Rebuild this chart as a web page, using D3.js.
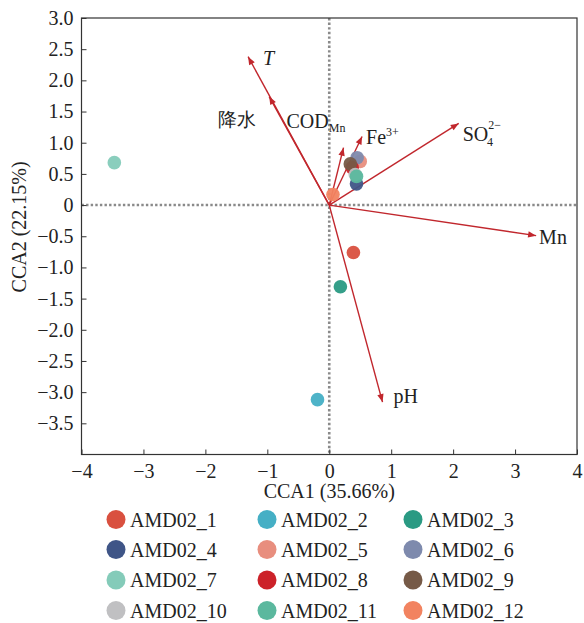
<!DOCTYPE html>
<html><head><meta charset="utf-8">
<script src="https://cdn.jsdelivr.net/npm/d3@7"></script>
<style>
html,body{margin:0;padding:0;background:#fff;}
svg{display:block;}
text{font-family:"Liberation Serif","Times New Roman",serif;fill:#222;}
</style></head>
<body><svg id="c" width="584" height="623"></svg>
<script>
// ---- data ----
const sampleNames = ["AMD02_1","AMD02_2","AMD02_3","AMD02_4","AMD02_5","AMD02_6","AMD02_7","AMD02_8","AMD02_9","AMD02_10","AMD02_11","AMD02_12"];
const sampleX = [0.39, -0.19, 0.18, 0.44, 0.50, 0.45, -3.47, 0.37, 0.34, 0.42, 0.44, 0.06];
const sampleY = [-0.76, -3.12, -1.31, 0.34, 0.70, 0.76, 0.68, 0.60, 0.66, 0.49, 0.46, 0.17];
const sampleColors = ["#d9503f","#45afc5","#2a9a83","#3f5587","#e88e7e","#7e8aad","#84cbb9","#cc2229","#765a47","#c0c0c2","#5bb89e","#f28360"];
const envNames = ["T","降水","COD","Fe","SO","Mn","pH"];
const envX = [-1.31, -0.97, 0.23, 0.53, 2.09, 3.34, 0.86];
const envY = [2.38, 1.74, 0.92, 1.10, 1.31, -0.49, -3.16];
const xTicks = [-4,-3,-2,-1,0,1,2,3,4];
const yTicks = [3.0,2.5,2.0,1.5,1.0,0.5,0,-0.5,-1.0,-1.5,-2.0,-2.5,-3.0,-3.5];
const xTitle = "CCA1 (35.66%)";
const yTitle = "CCA2 (22.15%)";

// ---- layout ----
const L = 81.5, R = 577, T = 18, B = 454.5;
const svg = d3.select("#c");
const x = d3.scaleLinear().domain([-4,4]).range([L,R]);
const y = d3.scaleLinear().domain([-4,3]).range([B,T]);
const minus = s => String(s).replace("-","\u2212");

// zero lines
svg.append("line").attr("x1",x(0)).attr("x2",x(0)).attr("y1",T).attr("y2",B)
  .attr("stroke","#8a8a8a").attr("stroke-width",2.6).attr("stroke-dasharray","2.4,2.2");
svg.append("line").attr("x1",L).attr("x2",R).attr("y1",y(0)).attr("y2",y(0))
  .attr("stroke","#8a8a8a").attr("stroke-width",2.6).attr("stroke-dasharray","2.4,2.2");

// axes
const xAxis = d3.axisBottom(x).tickValues(xTicks).tickSize(-5).tickPadding(9)
  .tickFormat(d => minus(d));
const gx = svg.append("g").attr("transform",`translate(0,${B})`).call(xAxis);
gx.select(".domain").remove();
gx.selectAll("text").attr("font-size",20).attr("font-family","Liberation Serif").attr("fill","#222");
gx.selectAll("line").attr("stroke","#333");

const yAxis = d3.axisLeft(y).tickValues(yTicks).tickSize(-5).tickPadding(8)
  .tickFormat(d => d === 0 ? "0" : minus(d.toFixed(1)));
const gy = svg.append("g").attr("transform",`translate(${L},0)`).call(yAxis);
gy.select(".domain").remove();
gy.selectAll("text").attr("font-size",20).attr("font-family","Liberation Serif").attr("fill","#222");
gy.selectAll("line").attr("stroke","#333");

svg.append("rect").attr("x",L).attr("y",T).attr("width",R-L).attr("height",B-T)
  .attr("fill","none").attr("stroke","#333").attr("stroke-width",1.2);

// titles
svg.append("text").attr("x",x(0)).attr("y",498).attr("text-anchor","middle")
  .attr("font-size",20).text(xTitle);
svg.append("text").attr("transform",`translate(26,${y(-0.35)}) rotate(-90)`)
  .attr("text-anchor","middle").attr("font-size",20).text(yTitle);

// arrows
const arrowColor = "#c1272d";
svg.append("defs").append("marker").attr("id","ah").attr("viewBox","0 -5 10 10")
  .attr("refX",10).attr("refY",0).attr("markerWidth",10).attr("markerHeight",8)
  .attr("markerUnits","userSpaceOnUse").attr("orient","auto")
  .append("path").attr("d","M0,-4L10,0L0,4Z").attr("fill",arrowColor);

const env = envNames.map((n,i)=>({n, x:envX[i], y:envY[i]}));
svg.append("g").selectAll("line").data(env).join("line")
  .attr("x1",x(0)).attr("y1",y(0)).attr("x2",d=>x(d.x)).attr("y2",d=>y(d.y))
  .attr("stroke",arrowColor).attr("stroke-width",1.4).attr("marker-end","url(#ah)");

// arrow labels (offsets are style)
const lab = svg.append("g").attr("font-size",20);
const tip = n => { const d = env.find(e=>e.n===n); return [x(d.x), y(d.y)]; };
let p;
p = tip("T");
lab.append("text").attr("x",p[0]+15).attr("y",p[1]+8).attr("font-style","italic").text("T");
p = tip("降水");
lab.append("text").attr("x",p[0]-51).attr("y",p[1]+29)
  .attr("font-family","Noto Sans CJK SC").attr("font-weight",300).attr("font-size",19).attr("fill","#333").text("降水");
p = tip("COD");
const tc = lab.append("text").attr("x",p[0]-57).attr("y",p[1]-20);
tc.append("tspan").text("COD");
tc.append("tspan").attr("font-size",12).attr("dy",4).text("Mn");
p = tip("Fe");
const tf = lab.append("text").attr("x",p[0]+4).attr("y",p[1]+8);
tf.append("tspan").text("Fe");
tf.append("tspan").attr("font-size",12).attr("dy",-8).text("3+");
p = tip("SO");
const ts = lab.append("text").attr("x",p[0]+4).attr("y",p[1]+18);
ts.append("tspan").text("SO");
ts.append("tspan").attr("font-size",12).attr("dy",-12).text("2\u2212");
ts.append("tspan").attr("font-size",12).attr("dx",-14).attr("dy",17).text("4");
p = tip("Mn");
lab.append("text").attr("x",p[0]+3).attr("y",p[1]+8).text("Mn");
p = tip("pH");
lab.append("text").attr("x",p[0]+11).attr("y",p[1]+1).text("pH");

// points
const pts = sampleNames.map((n,i)=>({n, x:sampleX[i], y:sampleY[i], c:sampleColors[i]}));
svg.append("g").selectAll("circle").data(pts).join("circle")
  .attr("cx",d=>x(d.x)).attr("cy",d=>y(d.y)).attr("r",6.8)
  .attr("fill",d=>d.c).attr("opacity",0.95);

// legend
const colX = [116, 267, 413], rowY = [519.5, 549.5, 580, 610.5];
const lg = svg.append("g").selectAll("g").data(pts).join("g")
  .attr("transform",(d,i)=>`translate(${colX[i%3]},${rowY[Math.floor(i/3)]})`);
lg.append("circle").attr("r",9.5).attr("fill",d=>d.c);
lg.append("text").attr("x",14).attr("y",7).attr("font-size",20).text(d=>d.n);
</script></body></html>
